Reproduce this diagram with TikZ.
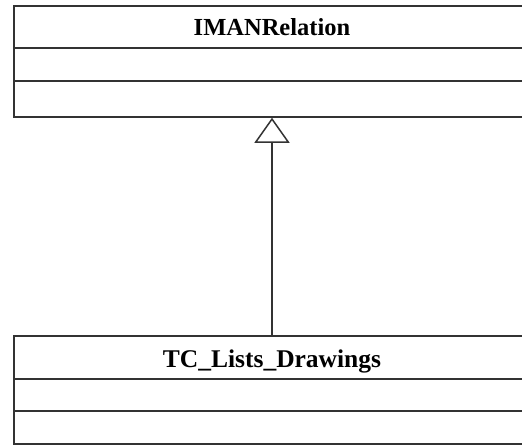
\documentclass[tikz,border=0pt]{standalone}
\usepackage{fontspec}
\setmainfont{Liberation Serif}
\usetikzlibrary{arrows.meta}
\definecolor{linegray}{HTML}{333333}
\tikzset{
  classbox/.style={draw=linegray, line width=1.5pt, fill=white, inner sep=0pt, rectangle},
  divider/.style={draw=linegray, line width=1.5pt},
  titletext/.style={inner sep=0pt, anchor=base, font=\bfseries\fontsize{24.5pt}{28pt}\selectfont},
  inherit/.style={draw=linegray, line width=1.5pt, -{Triangle[open, length=25pt, width=35pt, line width=1.5pt]}}
}
\begin{document}
\begin{tikzpicture}[x=1pt, y=-1pt]
  \useasboundingbox (0,0) rectangle (522,445);
  \fill[white] (0,0) rectangle (522,445);
  % superclass
  \node[classbox, minimum width=516pt, minimum height=111pt] (iman) at (272,61.5) {};
  \node[titletext] (imant) at (272,35) {IMANRelation};
  \draw[divider] (iman.west |- 0,48) -- (iman.east |- 0,48);
  \draw[divider] (iman.west |- 0,81) -- (iman.east |- 0,81);
  % subclass
  \node[classbox, minimum width=516pt, minimum height=108pt] (tc) at (272,390) {};
  \node[titletext, font=\bfseries\fontsize{25.5pt}{28pt}\selectfont] (tct) at (272,367) {TC\_Lists\_Drawings};
  \draw[divider] (tc.west |- 0,379) -- (tc.east |- 0,379);
  \draw[divider] (tc.west |- 0,411) -- (tc.east |- 0,411);
  % generalization
  \draw[inherit] (tc.north) -- (iman.south);
\end{tikzpicture}
\end{document}
